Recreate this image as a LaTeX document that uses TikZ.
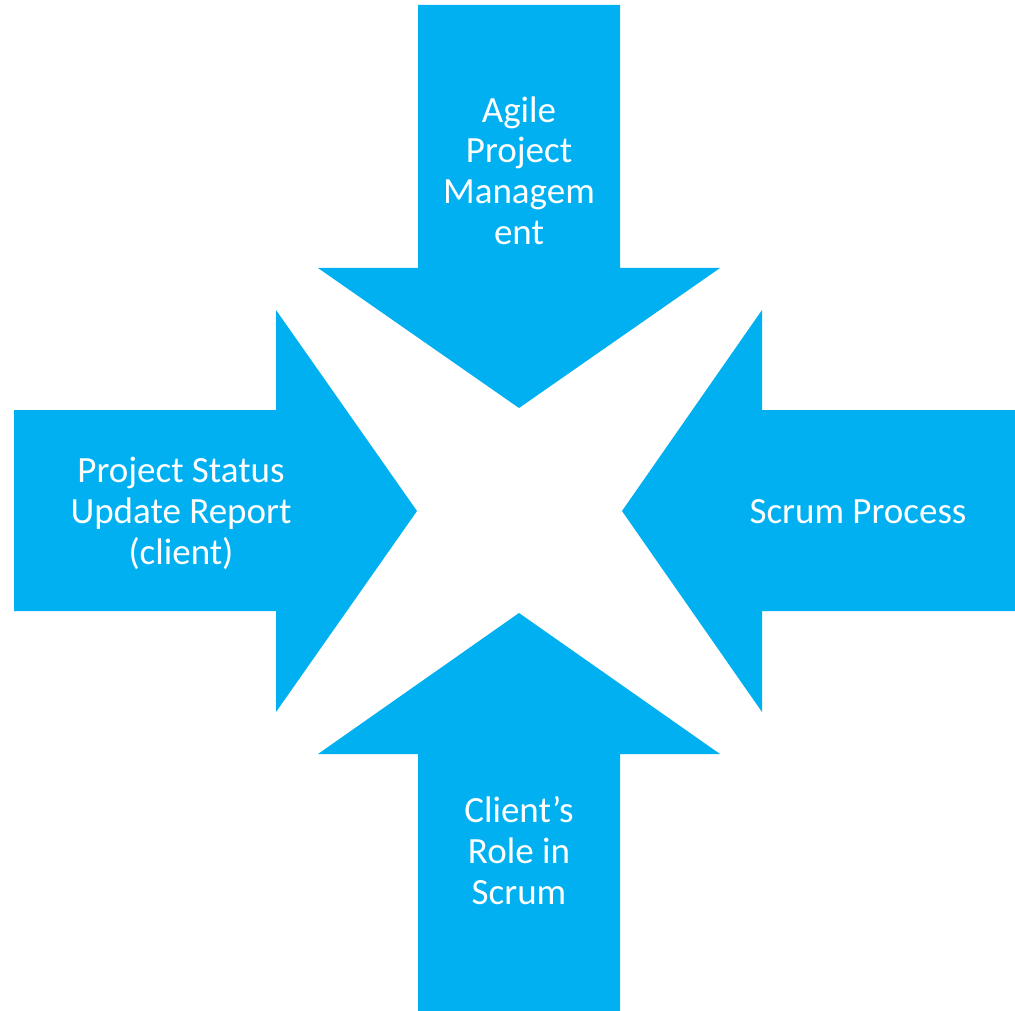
\documentclass[tikz,border=0pt]{standalone}
\usepackage{fontspec}
\setmainfont{Carlito}
\definecolor{arrowblue}{HTML}{00B0F0}
\begin{document}
\begin{tikzpicture}[x=1pt,y=-1pt,
  arrowshape/.style={fill=arrowblue,draw=none},
  label/.style={text=white,align=center,font=\fontsize{37}{41}\selectfont,inner sep=0pt,anchor=base}]
\useasboundingbox (0,0) rectangle (1015,1011);
% top arrow
\fill[arrowshape] (418,5) -- (620,5) -- (620,268) -- (720,268) -- (519,408) -- (318,268) -- (418,268) -- cycle;
% bottom arrow
\fill[arrowshape] (418,1011) -- (620,1011) -- (620,754) -- (720,754) -- (519,613) -- (318,754) -- (418,754) -- cycle;
% left arrow
\fill[arrowshape] (14,410) -- (276,410) -- (276,310) -- (417,511) -- (276,712) -- (276,611) -- (14,611) -- cycle;
% right arrow
\fill[arrowshape] (1015,410) -- (762,410) -- (762,310) -- (622,511) -- (762,712) -- (762,611) -- (1015,611) -- cycle;
% labels (base anchor = baseline of last line)
\node[label] (agile) at (519,245) {Agile\\Project\\Managem\\ent};
\node[label] (status) at (181,564) {Project Status\\Update Report\\(client)};
\node[label] (scrum) at (858,523) {Scrum Process};
\node[label] (client) at (519,904) {Client’s\\Role in\\Scrum};
\end{tikzpicture}
\end{document}
